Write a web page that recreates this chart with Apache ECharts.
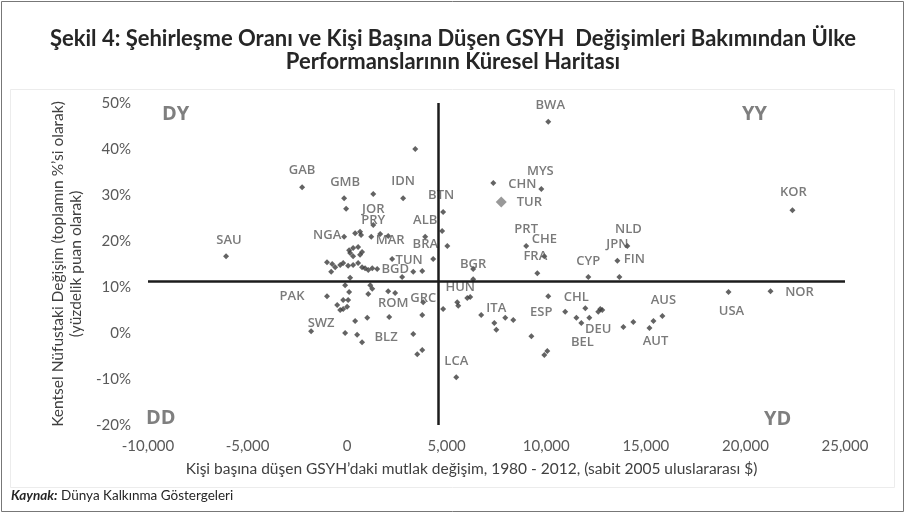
<!DOCTYPE html>
<html>
<head>
<meta charset="utf-8">
<script src="https://cdn.jsdelivr.net/npm/echarts@6/dist/echarts.min.js"></script>
<style>
  html, body { margin: 0; padding: 0; background: #fff; }
  #main { width: 906px; height: 520px; }
</style>
</head>
<body>
<div id="main"></div>
<script>
// etiketli ülkeler
const countryCodes = ['SAU','GAB','GMB','IDN','BTN','JOR','PRY','ALB','BRA','NGA','MAR','TUN','BGD','BGR','HUN','ROM','GRC','PAK','SWZ','BLZ','LCA','ITA','ESP','CHL','DEU','BEL','AUS','AUT','USA','NOR','KOR','BWA','MYS','CHN','TUR','PRT','CHE','FRA','CYP','NLD','JPN','FIN'];
const countryGdp = [-6080,-2260,-150,2810,4820,1310,1210,3920,5030,-150,2060,2260,1510,6330,6030,2410,3820,-1010,-1810,750,5480,7390,10950,10100,12160,11760,15830,15180,19150,21260,22360,10100,9750,7340,7740,8990,9900,9550,12110,14070,13570,13670];
const countryUrban = [16.7,31.7,29.3,29.3,26.3,23.5,20.9,20.9,18.9,20.9,21.1,16.1,13.9,11.7,7.6,8.7,6.7,8.0,0.4,-2.0,-9.6,2.2,4.6,8.0,3.3,2.2,3.7,1.1,8.9,9.1,26.7,45.9,31.3,32.6,28.5,18.9,16.7,13.0,12.2,18.9,15.7,12.2];

// etiketsiz ülkeler
const otherGdp = [-50,1310,3420,4770,4320,400,650,700,1660,100,300,550,750,650,300,150,-1010,-750,-600,-350,-200,50,300,550,750,900,1060,1260,3320,3770,-800,2760,6330,-500,-350,-200,-200,50,0,100,-100,150,1160,1260,1060,2060,3770,4820,400,1010,2110,-100,500,3320,3520,3770,5530,5580,6180,6730,7490,7940,8340,11960,12710,12810,12610,11510,13870,14370,15380,9250,10050,9900];
const otherUrban = [27.0,30.2,40.0,22.2,16.1,21.7,22.0,21.3,21.5,18.0,18.5,18.7,17.6,17.0,16.7,17.4,15.4,15.0,14.3,14.8,15.2,14.6,14.8,15.2,14.3,14.1,13.7,14.1,13.3,13.5,13.3,12.2,13.9,6.1,5.0,5.2,7.2,7.2,5.7,8.9,10.4,12.0,10.4,9.6,8.5,9.1,3.9,5.2,2.6,3.3,3.5,0.0,-0.4,-0.2,-4.6,-3.7,6.7,5.9,7.8,3.9,0.7,3.3,2.8,5.4,5.2,5.0,4.6,3.3,1.3,2.4,2.6,-0.7,-3.9,-4.8];

// ortalama çizgileri
const meanGdpChange = 4570;
const meanUrbanChange = 11.3;

// etiketlerin işaretçiye göre kayması (piksel)
const labelOffset = {
  SAU:[3,-16], GAB:[0,-17], GMB:[1,-16], IDN:[0,-17], BTN:[-2,-17], JOR:[0,-16], PRY:[2,-17],
  ALB:[0,-17], BRA:[-22,-2], NGA:[-17,-2], MAR:[2,4], TUN:[17,1], BGD:[18,0], BGR:[0,-15],
  HUN:[-7,-11], ROM:[-2,10], GRC:[0,-4], PAK:[-35,0], SWZ:[10,-8], BLZ:[24,-5], LCA:[0,-16],
  ITA:[2,-15], ESP:[-24,0], CHL:[28,1], DEU:[9,11], BEL:[1,19], AUS:[1,-16], AUT:[6,13],
  USA:[3,19], NOR:[29,1], KOR:[1,-18], BWA:[2,-17], MYS:[-1,-18], CHN:[29,1], TUR:[28,0],
  PRT:[0,-17], CHE:[0,-17], FRA:[-2,-17], CYP:[0,-16], NLD:[1,-17], JPN:[0,-16], FIN:[15,-18]
};

const labelFont = 'Open Sans';
const axisFont = 'Lato';

const labeledData = countryCodes.map((c, i) => {
  const item = { name: c, value: [countryGdp[i], countryUrban[i]] };
  if (c === 'TUR') {
    item.symbolSize = 11;
    item.itemStyle = { color: '#7f7f7f' };
  }
  return item;
});
const otherData = otherGdp.map((g, i) => [g, otherUrban[i]]);

const chart = echarts.init(document.getElementById('main'));
chart.setOption({
  animation: false,
  backgroundColor: '#fff',
  title: {
    text: 'Şekil 4: Şehirleşme Oranı ve Kişi Başına Düşen GSYH  Değişimleri Bakımından Ülke\nPerformanslarının Küresel Haritası',
    left: 'center',
    top: 22,
    textStyle: { fontFamily: axisFont, fontWeight: 'bold', fontSize: 22, color: '#262626', lineHeight: 23, align: 'center' }
  },
  grid: { left: 148, right: 61, top: 103, bottom: 95 },
  xAxis: {
    type: 'value',
    min: -10000, max: 25000, interval: 5000,
    axisLine: { show: false }, axisTick: { show: false }, splitLine: { show: false },
    axisLabel: {
      margin: 14, color: '#595959', fontFamily: axisFont, fontSize: 15,
      formatter: v => v.toLocaleString('en-US')
    },
    name: 'Kişi başına düşen GSYH’daki mutlak değişim, 1980 - 2012, (sabit 2005 uluslararası $)',
    nameLocation: 'middle', nameGap: 36,
    nameTextStyle: { color: '#404040', fontFamily: axisFont, fontSize: 15.5, padding: [0, 50, 0, 0] }
  },
  yAxis: {
    type: 'value',
    min: -20, max: 50, interval: 10,
    axisLine: { show: false }, axisTick: { show: false }, splitLine: { show: false },
    axisLabel: {
      margin: 17, color: '#595959', fontFamily: axisFont, fontSize: 15,
      formatter: v => v + '%'
    },
    name: 'Kentsel Nüfustaki Değişim (toplamın %’si olarak)\n(yüzdelik puan olarak)',
    nameLocation: 'middle', nameGap: 60,
    nameTextStyle: { color: '#404040', fontFamily: axisFont, fontSize: 15.5, lineHeight: 18, align: 'center' }
  },
  series: [
    {
      type: 'scatter',
      symbol: 'diamond',
      symbolSize: 6,
      itemStyle: { color: '#3c3c3c' },
      data: otherData,
      silent: true,
      markLine: {
        silent: true,
        symbol: 'none',
        label: { show: false },
        lineStyle: { color: '#1c1c1c', width: 2.5, type: 'solid' },
        data: [{ xAxis: meanGdpChange }, { yAxis: meanUrbanChange }]
      },
      z: 3
    },
    {
      type: 'scatter',
      symbol: 'diamond',
      symbolSize: 6,
      itemStyle: { color: '#3c3c3c' },
      data: labeledData,
      label: {
        show: true,
        position: 'inside',
        formatter: p => p.name,
        color: '#595959',
        fontFamily: labelFont,
        fontSize: 13,
        fontWeight: 600
      },
      labelLayout: p => {
        const off = labelOffset[countryCodes[p.dataIndex]] || [0, -16];
        return { dx: off[0], dy: off[1], hideOverlap: false };
      },
      z: 4
    }
  ],
  graphic: [
    { type: 'rect', shape: { x: 1.5, y: 1.5, width: 902, height: 510 }, style: { fill: 'none', stroke: '#777', lineWidth: 1 }, z: -1 },
    { type: 'rect', shape: { x: 10.5, y: 89.5, width: 884, height: 398 }, style: { fill: 'none', stroke: '#ececec', lineWidth: 1 }, z: -1 },
    { type: 'text', left: 162, top: 104, style: { text: 'DY', fill: '#7f7f7f', font: 'bold 20px "Open Sans"' } },
    { type: 'text', left: 742, top: 104, style: { text: 'YY', fill: '#7f7f7f', font: 'bold 20px "Open Sans"' } },
    { type: 'text', left: 146, top: 408, style: { text: 'DD', fill: '#7f7f7f', font: 'bold 20px "Open Sans"' } },
    { type: 'text', left: 764, top: 409, style: { text: 'YD', fill: '#7f7f7f', font: 'bold 20px "Open Sans"' } },
    {
      type: 'text', left: 11, top: 489,
      style: {
        text: '{b|Kaynak:} Dünya Kalkınma Göstergeleri',
        rich: {
          b: { fontStyle: 'italic', fontWeight: 'bold', fontFamily: axisFont, fontSize: 13.5, fill: '#262626' }
        },
        fontFamily: axisFont, fontSize: 13.5, fill: '#262626'
      }
    }
  ]
});
</script>
</body>
</html>
